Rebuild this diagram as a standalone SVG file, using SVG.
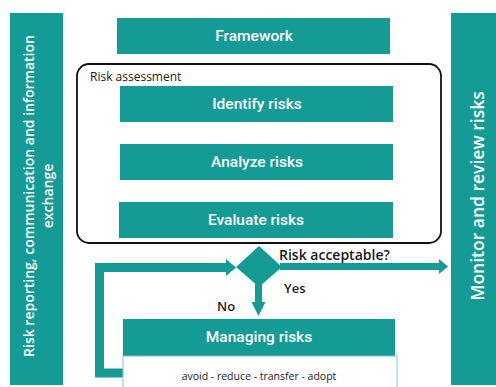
<svg xmlns="http://www.w3.org/2000/svg" width="496" height="387" viewBox="0 0 496 387">
  <style>
    .box { fill: #149b96; }
    .lbl { font-family: "Open Sans", "Noto Sans", "DejaVu Sans", sans-serif; font-weight: 600; fill: #ffffff; text-anchor: middle; dominant-baseline: central; }
    .step { font-family: Roboto, "Open Sans", sans-serif; font-weight: 500; font-size: 15.5px; }
    .dark { font-family: "Open Sans", "Noto Sans", "DejaVu Sans", sans-serif; fill: #1a1a1a; }
    .conn { fill: none; stroke: #149b96; }
    .head { fill: #149b96; }
  </style>
  <rect width="496" height="387" fill="#ffffff"/>

  <!-- side bars -->
  <g id="reporting">
    <rect class="box" x="10" y="13" width="53" height="372"/>
    <text class="lbl" font-size="14" transform="translate(28 196) rotate(-90)">Risk reporting, communication and information</text>
    <text class="lbl" font-size="14" transform="translate(47 196) rotate(-90)">exchange</text>
  </g>
  <g id="monitor">
    <rect class="box" x="451" y="13" width="45" height="372"/>
    <text class="lbl" font-size="17.5" transform="translate(477 196) rotate(-90)">Monitor and review risks</text>
  </g>

  <g id="framework">
    <rect class="box" x="117" y="18" width="273" height="36"/>
    <text class="lbl step" x="254" y="36">Framework</text>
  </g>

  <g id="risk-assessment">
    <rect x="77" y="64" width="364" height="179" rx="12" fill="none" stroke="#111111" stroke-width="1.8"/>
    <text class="dark" font-size="12" x="90" y="81">Risk assessment</text>
  </g>

  <g id="identify">
    <rect class="box" x="120" y="86" width="273" height="36"/>
    <text class="lbl step" x="257" y="104">Identify risks</text>
  </g>
  <g id="analyze">
    <rect class="box" x="120" y="144" width="273" height="36"/>
    <text class="lbl step" x="257" y="162">Analyze risks</text>
  </g>
  <g id="evaluate">
    <rect class="box" x="119" y="202" width="274" height="36"/>
    <text class="lbl step" x="256" y="220">Evaluate risks</text>
  </g>

  <!-- connectors -->
  <g id="connectors">
    <!-- loop back from managing risks -->
    <polyline class="conn" stroke-width="9" points="124,373 99.5,373 99.5,267.5 228,267.5"/>
    <polygon class="head" points="226,259 236,267.5 226,276"/>
    <!-- acceptable: to monitor -->
    <rect class="head" x="280" y="263" width="161" height="7"/>
    <polygon class="head" points="439,259 448,266.5 439,274"/>
    <!-- not acceptable: down to managing -->
    <rect class="head" x="255" y="283" width="7" height="21"/>
    <polygon class="head" points="251.5,302 265.5,302 258.5,316"/>
    <text class="dark" font-size="14" font-weight="600" x="279" y="260">Risk acceptable?</text>
    <text class="dark" font-size="13" font-weight="600" x="284" y="293">Yes</text>
    <text class="dark" font-size="13" font-weight="600" x="217" y="311">No</text>
  </g>

  <g id="decision">
    <polygon class="box" points="259,246 282,267 259,287 236,267"/>
  </g>

  <g id="managing">
    <rect class="box" x="123" y="319" width="272" height="37"/>
    <text class="lbl step" x="259" y="337">Managing risks</text>
    <rect x="123" y="356" width="274" height="40" fill="#ffffff" stroke="#7fc7c3" stroke-width="1"/>
    <text class="dark" font-size="10.5" text-anchor="middle" x="259" y="380">avoid - reduce - transfer - adopt</text>
  </g>
</svg>
